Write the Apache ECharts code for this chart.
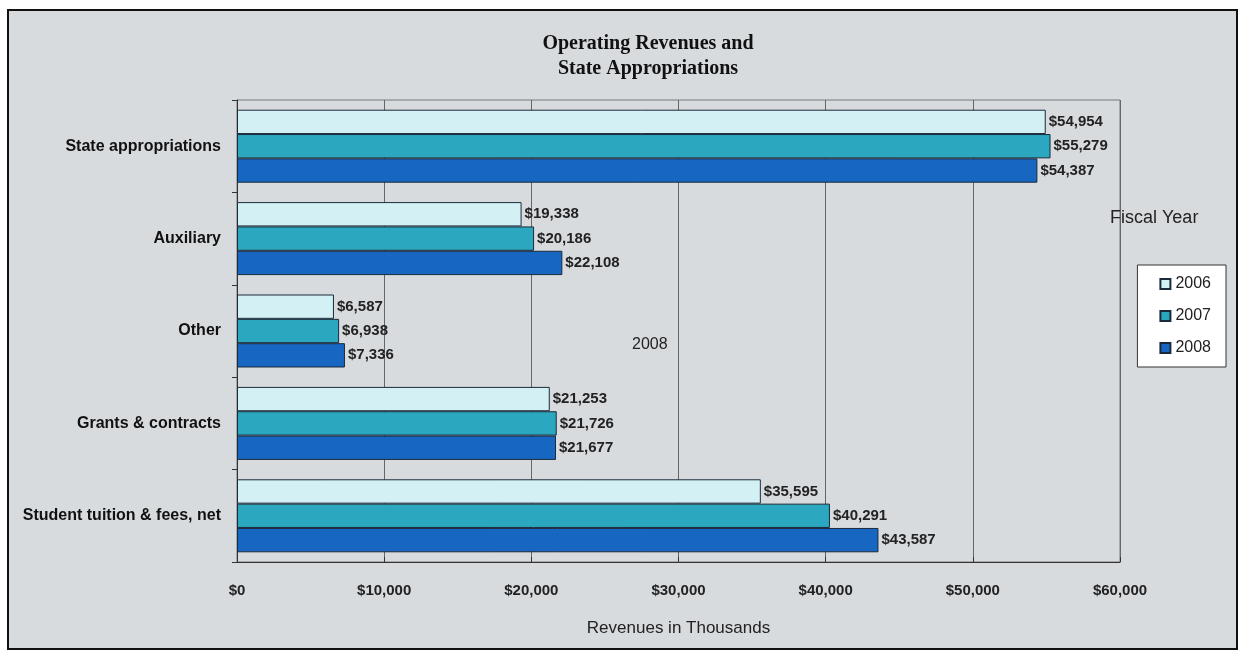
<!DOCTYPE html>
<html><head><meta charset="utf-8">
<script src="https://cdn.jsdelivr.net/npm/echarts@6/dist/echarts.min.js"></script>
<style>
html,body{margin:0;padding:0;background:#fff;}
#frame{position:absolute;left:7px;top:9px;width:1227px;height:637px;border:2px solid #111;background:#d8dbde;}
#c{position:absolute;left:0;top:0;width:1243px;height:654px;}
</style></head>
<body>
<div id="frame"></div>
<div id="c"></div>
<script>
const categories = ["State appropriations", "Auxiliary", "Other", "Grants & contracts", "Student tuition & fees, net"];
const years = ["2006", "2007", "2008"];
const values2006 = [54954, 19338, 6587, 21253, 35595];
const values2007 = [55279, 20186, 6938, 21726, 40291];
const values2008 = [54387, 22108, 7336, 21677, 43587];
const xTicks = [0, 10000, 20000, 30000, 40000, 50000, 60000];

const colors = ['#d3f1f5', '#2ba7bf', '#1766c2'];
const seriesData = [values2006, values2007, values2008];
const fmt = v => '$' + v.toLocaleString('en-US');
const SANS = 'Liberation Sans';

const chart = echarts.init(document.getElementById('c'), null, {renderer: 'canvas'});
chart.setOption({
  backgroundColor: 'transparent',
  animation: false,
  title: {
    text: 'Operating Revenues and\nState Appropriations',
    left: 643, top: 26, textAlign: 'center',
    textStyle: {fontFamily: 'Liberation Serif', fontWeight: 'bold', fontSize: 20, color: '#111', lineHeight: 25}
  },
  grid: {left: 237, right: 123, top: 100, bottom: 92, show: true, backgroundColor: 'transparent', borderColor: '#777', borderWidth: 1},
  legend: {
    data: years, orient: 'vertical', right: 17, top: 265,
    backgroundColor: '#fff', borderColor: '#333', borderWidth: 1,
    padding: [11, 15, 11, 22], itemGap: 16, itemWidth: 10, itemHeight: 10,
    icon: 'rect',
    textStyle: {fontFamily: SANS, fontSize: 16, color: '#222'}
  },
  graphic: [
    {type: 'text', left: 1110, top: 209, style: {text: 'Fiscal Year', fontFamily: SANS, fontSize: 18, fill: '#222'}},
    {type: 'text', left: 632, top: 337, style: {text: '2008', fontFamily: SANS, fontSize: 16, fill: '#222'}}
  ],
  xAxis: {
    type: 'value', min: 0, max: 60000, interval: 10000,
    name: 'Revenues in Thousands', nameLocation: 'middle', nameGap: 58,
    nameTextStyle: {fontFamily: SANS, fontSize: 17, color: '#222'},
    axisLine: {show: true, lineStyle: {color: '#333', width: 1}},
    axisTick: {show: true, inside: true, length: 5, lineStyle: {color: '#333'}},
    axisLabel: {fontFamily: SANS, fontSize: 15, fontWeight: 'bold', color: '#222', margin: 21,
      formatter: v => xTicks.includes(v) ? fmt(v) : ''},
    splitLine: {show: true, lineStyle: {color: '#666', width: 1}}
  },
  yAxis: {
    type: 'category', data: categories, inverse: true,
    axisLine: {show: true, lineStyle: {color: '#333', width: 1}},
    axisTick: {show: true, length: 5, lineStyle: {color: '#333'}},
    axisLabel: {fontFamily: SANS, fontSize: 16, fontWeight: 'bold', color: '#111', margin: 16},
    splitLine: {show: false}
  },
  series: years.map((y, i) => ({
    name: y, type: 'bar', data: seriesData[i],
    barGap: '0%', barCategoryGap: '21%',
    itemStyle: {color: colors[i], borderColor: '#1a2a3a', borderWidth: 1},
    label: {show: true, position: 'right', distance: 3, formatter: p => fmt(p.value),
      fontFamily: SANS, fontSize: 15, fontWeight: 'bold', color: '#222'}
  }))
});
</script>
</body></html>
